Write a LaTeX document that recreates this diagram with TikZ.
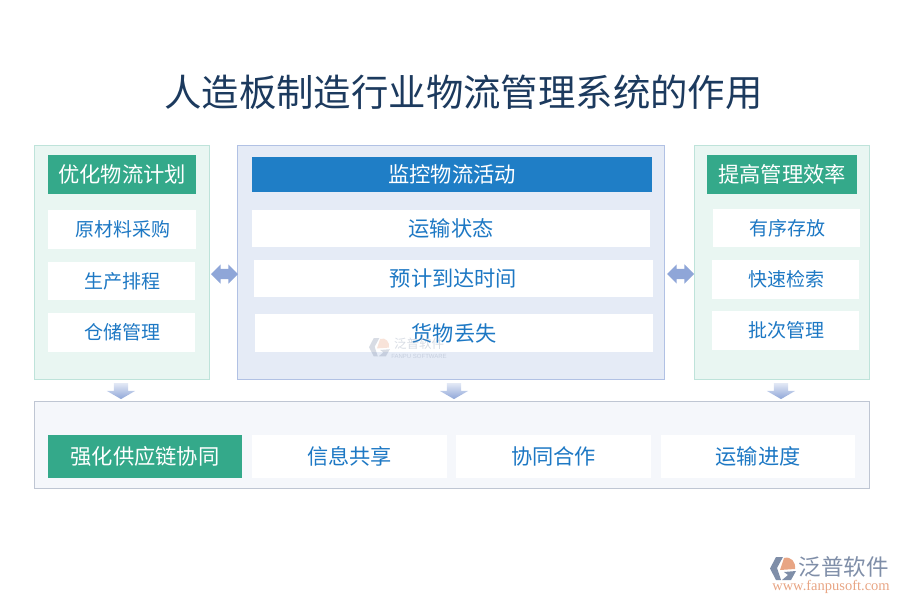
\documentclass[tikz,border=0pt]{standalone}
\usepackage{fontspec}
\setmainfont{Noto Sans CJK SC}
\newfontfamily\urlfont{Liberation Serif}
\newfontfamily\wmfont{Liberation Sans}
\usetikzlibrary{shapes.arrows}
\definecolor{mygreen}{HTML}{34A98A}
\definecolor{myblue}{HTML}{1F7EC6}
\definecolor{mytext}{HTML}{1D78C4}
\definecolor{mytitle}{HTML}{1C3A5E}
\definecolor{myarrow}{HTML}{8FA6D8}
\definecolor{mygrey}{HTML}{7F8EA8}
\definecolor{myorange}{HTML}{E8A584}
\tikzset{
  pics/fanpu logo/.style={code={
    \fill[mygrey] (6,0) -- (13,0) -- (7,11) -- (11,23) -- (6,23) -- (0,11.5) -- cycle;
    \fill[myorange] (14,1) .. controls (21,-1) and (26,5) .. (25,12) -- (10,13) -- cycle;
    \fill[mygrey] (14,15) -- (26,14) -- (21,23) -- (12,23) -- (18,18) -- cycle;
  }}
}
\begin{document}
\begin{tikzpicture}[x=1pt,y=-1pt,
  panel/.style={draw,line width=1pt,inner sep=0pt},
  green panel/.style={panel,fill=mygreen!11,draw=mygreen!32},
  blue panel/.style={panel,fill=myarrow!23,draw=myarrow!70},
  grey panel/.style={panel,fill=myarrow!9,draw=mygrey!50},
  head box/.style={fill=mygreen,text=white,inner sep=0pt,font=\fontsize{21.3}{21.3}\selectfont},
  item box/.style={fill=white,text=mytext,inner sep=0pt,font=\fontsize{21.2}{21.2}\selectfont},
  small item/.style={item box,font=\fontsize{19}{19}\selectfont,execute at begin node=\hspace{2pt}},
  both arrow/.style={double arrow,fill=myarrow,minimum height=27pt,minimum width=19pt,
    inner xsep=0pt,inner ysep=5pt,double arrow head extend=4.5pt},
  down arrow/.style={single arrow,shape border rotate=270,top color=myarrow!25,bottom color=myarrow,
    minimum height=16pt,minimum width=28pt,inner xsep=7pt,inner ysep=0pt,
    single arrow head extend=7pt,single arrow tip angle=120}]

\useasboundingbox (0,0) rectangle (900,600);

\node[font=\fontsize{37.4}{37.4}\selectfont,text=mytitle,inner sep=0pt] (title) at (463.5,92) {人造板制造行业物流管理系统的作用};

% panels
\node[green panel,minimum width=175pt,minimum height=234pt] (left) at (122,262.5) {};
\node[blue panel,minimum width=427pt,minimum height=234pt] (center) at (451,262.5) {};
\node[green panel,minimum width=175pt,minimum height=234pt] (right) at (782,262.5) {};
\node[grey panel,minimum width=835pt,minimum height=87pt] (bottom) at (452,445) {};

% headers
\node[head box,minimum width=148pt,minimum height=39pt] (lefthead) at (122,174.5) {优化物流计划};
\node[head box,fill=myblue,minimum width=400pt,minimum height=35pt] (centerhead) at (452,174.5) {监控物流活动};
\node[head box,minimum width=150pt,minimum height=39pt] (righthead) at (782,174.5) {提高管理效率};
\node[head box,minimum width=194pt,minimum height=43pt] (bottomhead) at (145,456.5) {强化供应链协同};

% items
\foreach \name/\cx/\cy/\w/\h/\txt in {
  la/122/229.5/148/39/原材料采购,
  lb/121.5/281/147/38/生产排程,
  lc/121.5/332.5/147/39/仓储管理,
  ra/786.5/228/147/38/有序存放,
  rb/785.5/279.5/147/39/快速检索,
  rc/785.5/330.5/147/39/批次管理}{
  \node[small item,minimum width=\w pt,minimum height=\h pt] (\name) at (\cx,\cy) {\txt};
}
\foreach \name/\cx/\cy/\w/\h/\txt in {
  ca/451/228.5/398/37/运输状态,
  cb/453.5/278.5/399/37/预计到达时间,
  cc/454/333/398/38/货物丢失,
  ba/349.5/456.5/195/43/信息共享,
  bb/553.5/456.5/195/43/协同合作,
  bc/758/456.5/194/43/运输进度}{
  \node[item box,minimum width=\w pt,minimum height=\h pt] (\name) at (\cx,\cy) {\txt};
}

% arrows
\node[both arrow] (leftarrow) at (224.5,274) {};
\node[both arrow] (rightarrow) at (680.5,274) {};
\foreach \name/\cx in {downa/121,downb/454,downc/781}{
  \node[down arrow] (\name) at (\cx,389) {};
}

% watermark
\begin{scope}[opacity=.3]
\pic at (369,338) [scale=.8] {fanpu logo};
\node[font=\fontsize{12.5}{12.5}\selectfont,text=mygrey,inner sep=0pt] (wmname) at (419,344) {泛普软件};
\node[font=\wmfont\fontsize{6}{6}\selectfont,text=mygrey,inner sep=0pt] (wmsub) at (419,356) {FANPU SOFTWARE};
\end{scope}

% logo
\pic at (770,557) {fanpu logo};
\node[font=\fontsize{22.5}{22.5}\selectfont,text=mygrey,inner sep=0pt] (logoname) at (843.5,567) {泛普软件};
\node[font=\urlfont\fontsize{14.5}{14.5}\selectfont,text=myorange,inner sep=0pt] (logourl) at (831,586.5) {www.fanpusoft.com};
\end{tikzpicture}
\end{document}
